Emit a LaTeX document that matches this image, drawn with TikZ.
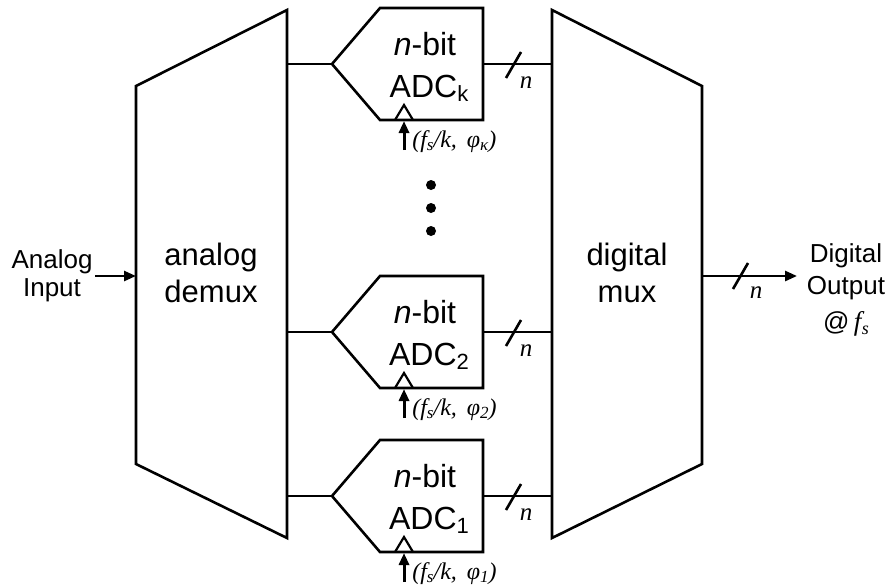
\documentclass[tikz,border=0pt]{standalone}
\usepackage{fontspec}
\setmainfont{Liberation Sans}
\newfontfamily\tnr{Liberation Serif}
\usetikzlibrary{arrows.meta}
\begin{document}
\begin{tikzpicture}[x=1pt,y=-1pt,line width=2.6pt,line join=miter,
  big/.style={font=\fontsize{31}{36}\selectfont,inner sep=0pt,anchor=base},
  adclbl/.style={font=\fontsize{32}{36}\selectfont,inner sep=0pt,anchor=base},
  small/.style={font=\fontsize{26}{30}\selectfont,inner sep=0pt,anchor=base},
  clk/.style={font=\tnr\itshape\fontsize{24}{28}\selectfont,inner sep=0pt,anchor=west},
  nlbl/.style={font=\tnr\itshape\fontsize{25}{28}\selectfont,inner sep=0pt},
  arr/.style={-{Triangle[length=12pt,width=10pt]}},
  dot/.style={circle,fill=black,inner sep=0pt,minimum size=10pt}]
\useasboundingbox (0,0) rectangle (890,587);
% demux and mux
\draw (136,86) coordinate (dmTL) -- (287,10) coordinate (dmTR) -- (287,538) coordinate (dmBR) -- (136,464) coordinate (dmBL) -- cycle;
\draw (552,10) coordinate (mxTL) -- (702,86) coordinate (mxTR) -- (702,464) coordinate (mxBR) -- (552,538) coordinate (mxBL) -- cycle;
\node[big] (dm1) at (211,265) {analog};
\node[big] (dm2) at (211,302) {demux};
\node[big] (mx1) at (627,265) {digital};
\node[big] (mx2) at (627,302) {mux};
% input
\coordinate (inS) at (95,276);
\coordinate (inE) at (136,276);
\draw[arr] (inS) -- (inE);
\node[small] (in1) at (52,268) {Analog};
\node[small] (in2) at (52,296) {Input};
% output
\coordinate (outS) at (702,276);
\coordinate (outE) at (797,276);
\draw[arr] (outS) -- (outE);
\draw (733,289) -- (748,263);
\node[nlbl] (nout) at (756,293) {n};
\node[small] (o1) at (846,262) {Digital};
\node[small] (o2) at (846,294) {Output};
\node[small] (o3) at (846,330) {@\,{\tnr\itshape\fontsize{27}{30}\selectfont f\kern0.5pt\raisebox{-4pt}{\fontsize{18}{20}\selectfont s}}};
% ADCs
\foreach \T/\sub/\ph/\nm in {8/k/κ/k, 276/2/2/b, 440/1/1/a}{
  \draw (332,\T+56) -- (380,\T) -- (483,\T) -- (483,\T+112) -- (380,\T+112) -- cycle;
  \draw[line width=2.2pt] (395,\T+112) -- (404,\T+97) -- (413,\T+112);
  \coordinate (tip\nm) at (332,\T+56);
  \coordinate (dmo\nm) at (287,\T+56);
  \coordinate (out\nm) at (483,\T+56);
  \coordinate (mxi\nm) at (552,\T+56);
  \coordinate (ck\nm) at (404,\T+142);
  \coordinate (cke\nm) at (404,\T+113);
  \draw (dmo\nm) -- (tip\nm);
  \draw (out\nm) -- (mxi\nm);
  \draw (506,\T+70) -- (521,\T+44);
  \node[nlbl] (n\nm) at (526,\T+75) {n};
  \draw[arr,line width=3pt] (ck\nm) -- (cke\nm);
  \node[clk] (cl\nm) at (411,\T+134) {(f\raisebox{-3pt}{\fontsize{17}{20}\selectfont s}/k,\ \,φ\raisebox{-3pt}{\fontsize{17}{20}\selectfont \ph})};
  \node[adclbl] (nb\nm) at (425,\T+47) {\textit{n}-bit};
  \node[adclbl] (adc\nm) at (429,\T+89) {ADC\raisebox{-4pt}{\fontsize{22}{24}\selectfont \sub}};
}
% dots
\node[dot] (d1) at (431,185) {};
\node[dot] (d2) at (431,208) {};
\node[dot] (d3) at (431,231) {};
\end{tikzpicture}
\end{document}
